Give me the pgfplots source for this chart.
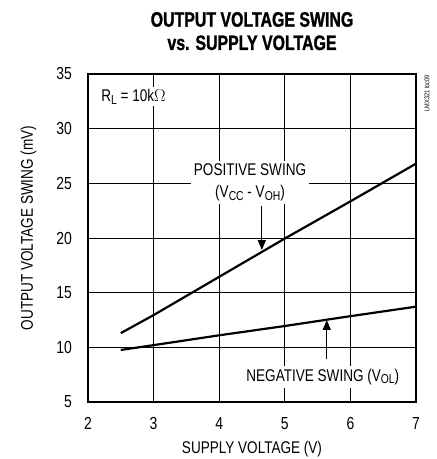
\documentclass[border=0pt]{standalone}
\usepackage{fontspec}
\setmainfont[FakeStretch=0.8]{Liberation Sans}
\newfontfamily\titlefont[FakeStretch=0.76,FakeBold=1.2]{Liberation Sans Bold}
\usepackage{pgfplots}
\pgfplotsset{compat=1.18}
\usetikzlibrary{arrows.meta}
\newcommand\fs{\fontsize{17}{22}\selectfont}
\newcommand\sub[1]{\raisebox{-0.3ex}{\fontsize{13}{13}\selectfont #1}}
\begin{document}
\begin{tikzpicture}
\path[use as bounding box] (-88bp,-57bp) rectangle (349bp,402bp);
\begin{axis}[
  at={(0,0)}, anchor=south west,
  scale only axis, width=328bp, height=328bp,
  xmin=2, xmax=7, ymin=5, ymax=35,
  xtick={2,3,4,5,6,7}, ytick={5,10,15,20,25,30,35},
  grid=major,
  major grid style={line width=0.7bp, black},
  major tick length=0pt,
  axis line style={line width=2.2bp},
  /pgf/number format/assume math mode=true,
  tick label style={font=\fontsize{17.5}{22}\selectfont},
  xticklabel style={anchor=north, inner sep=0pt, yshift=-15bp},
  yticklabel style={anchor=east, inner sep=0pt, xshift=-16bp},
]
\node[fill=white, inner sep=2bp, anchor=west, font=\fs] at (axis cs:2.17,32.9) {R\sub{L} = 10k$\Omega$};
\node[fill=white, inner sep=3bp, align=center, font=\fs] at (axis cs:4.47,25.1) {POSITIVE SWING\\(V\sub{CC} - V\sub{OH})};
\node[fill=white, inner sep=3bp, font=\fs] at (axis cs:5.58,7.3) {NEGATIVE SWING (V\sub{OL})};
\addplot[black, line width=2.2bp] coordinates {(2.5,11.3) (3,12.95) (4,16.45) (5,19.95) (6,23.35) (7,26.8)};
\addplot[black, line width=2.2bp] coordinates {(2.5,9.76) (3,10.2) (4,11.1) (5,11.95) (6,12.85) (7,13.72)};
\draw[line width=1.3bp, -{Triangle[length=10bp,width=8bp]}] (axis cs:4.65,22.9) -- (axis cs:4.65,18.9);
\draw[line width=1.3bp, -{Triangle[length=10bp,width=8bp]}] (axis cs:5.64,8.9) -- (axis cs:5.64,12.5);
\end{axis}
\node[anchor=base, font=\titlefont\fontsize{21}{24}\selectfont] at (164bp,375.3bp) {OUTPUT VOLTAGE SWING};
\node[anchor=base, font=\titlefont\fontsize{21}{24}\selectfont] at (164bp,352bp) {vs. SUPPLY VOLTAGE};
\node[anchor=base, font=\fs] at (164bp,-51bp) {SUPPLY VOLTAGE (V)};
\node[anchor=base, rotate=90, font=\fs] at (-55bp,174bp) {OUTPUT VOLTAGE SWING (mV)};
\node[anchor=east, rotate=90, inner sep=0pt, font=\fontsize{7}{8}\selectfont] at (339bp,327bp) {LMX321 toc09};
\end{tikzpicture}
\end{document}
